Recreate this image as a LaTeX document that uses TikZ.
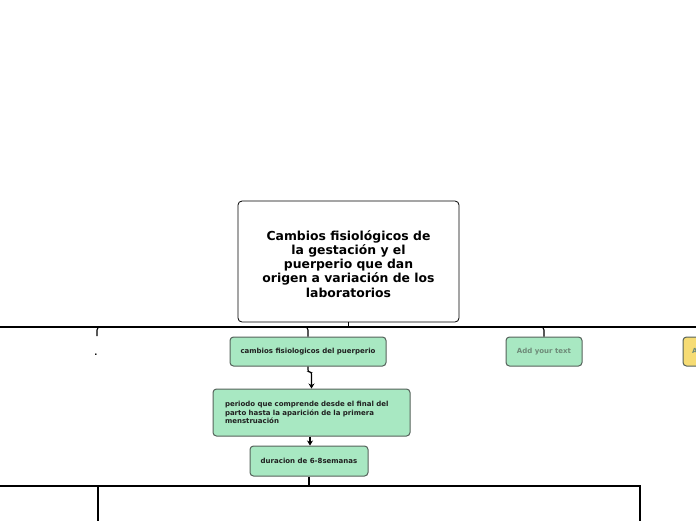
\documentclass[tikz,border=0pt]{standalone}
\usepackage{fontspec}
\setmainfont{DejaVu Sans Bold}
\usetikzlibrary{arrows.meta}
\definecolor{boxgreen}{HTML}{A8E8C2}
\definecolor{boxedge}{HTML}{56625B}
\definecolor{boxyellow}{HTML}{F6DC74}
\definecolor{greytext}{HTML}{6E8A78}
\tikzset{
  mainbox/.style={draw=black, line width=0.8pt, rounded corners=4pt, fill=white,
    minimum width=221pt, minimum height=121pt, align=center,
    inner sep=0pt, font=\fontsize{12.4}{14.1}\selectfont},
  greenbox/.style={draw=boxedge, fill=boxgreen, line width=1pt, rounded corners=3.5pt,
    inner sep=0pt, font=\fontsize{7}{8.6}\selectfont, text=black!88},
  conn/.style={line width=1.1pt, draw=black},
  tree/.style={line width=1.8pt, draw=black},
  arr/.style={line width=1.1pt, -{Stealth[length=5pt,width=6pt]}},
}
\begin{document}
\begin{tikzpicture}[x=1pt,y=1pt]
\useasboundingbox (0,0) rectangle (696,-520);
% main
\node[mainbox] (main) at (348.5,-261.5) {};
\node[align=center, inner sep=0pt, font=\fontsize{12.4}{14.1}\selectfont] (maintext) at (348.5,-264) {Cambios fisiológicos de\\la gestación y el\\puerperio que dan\\origen a variación de los\\laboratorios};
% top horizontal line
\coordinate (hl) at (0,-327);
\coordinate (hr) at (696,-327);
\draw[tree] (hl) -- (hr);
\draw[conn] (main.south) -- (main.south |- hl);
% left bracket and dot
\coordinate (b1a) at (100,-327);
\coordinate (b1b) at (97,-336);
\draw[conn, rounded corners=3pt] (b1a) -| (b1b);
\node[font=\fontsize{8}{9}\selectfont, inner sep=0pt] (dot) at (96,-355) {.};
% child boxes of top line
\node[greenbox, minimum width=156pt, minimum height=29pt] (c1) at (308,-351.5) {cambios fisiologicos del puerperio};
\node[greenbox, minimum width=76pt, minimum height=29pt, text=greytext] (add) at (544,-351.5) {Add your text};
\node[greenbox, fill=boxyellow, minimum width=76pt, minimum height=29pt, text=greytext, text width=58pt, align=left] (addy) at (721,-351.5) {Add your text};
\coordinate (j1) at (303,-327);
\coordinate (j2) at (539,-327);
\draw[conn, rounded corners=3pt] (j1) -| (c1.north);
\draw[conn, rounded corners=3pt] (j2) -| (add.north);
% second level
\node[greenbox, text width=173pt, inner xsep=12pt, minimum height=47pt, align=left] (c2) at (311.5,-412.5) {periodo que comprende desde el final del\\parto hasta la aparición de la primera\\menstruación};
\coordinate (k1) at (308,-372);
\draw[arr, rounded corners=2pt] (c1.south) -- (k1) -| (c2.north);
\node[greenbox, minimum width=118pt, minimum height=30pt] (c3) at (309,-461) {duracion de 6-8semanas};
\coordinate (k2) at (310,-440);
\draw[arr] (c2.south -| k2) -- (c3.north -| k2);
% bottom structure
\coordinate (m0) at (0,-486);
\coordinate (m1) at (98,-486);
\coordinate (m2) at (640,-486);
\coordinate (m1b) at (98,-522);
\coordinate (m2b) at (640,-522);
\draw[conn] (c3.south) -- (c3.south |- m0);
\draw[conn] (m0) -- (m1);
\draw[tree, line width=1.5pt] (m1b) -- (m1) -- (m2) -- (m2b);
\end{tikzpicture}
\end{document}
